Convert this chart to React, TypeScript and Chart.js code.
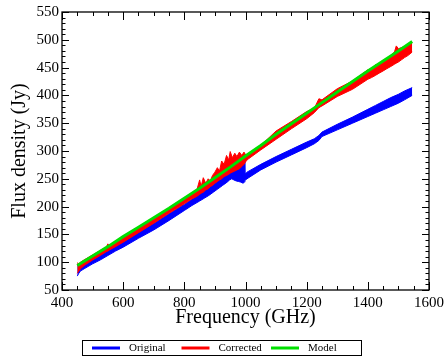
import React, { useEffect, useRef } from 'react';
import { Chart, registerables } from 'chart.js';

Chart.register(...registerables);

// Original spectrum (GHz / Jy): lower and upper envelope of the noisy trace
const ORIGINAL_FREQ = [
  450, 455, 460, 475, 500, 525, 550, 575, 600, 650, 700, 750, 800, 825, 850, 865,
  880, 895, 910, 925, 940, 948, 955, 962, 970, 978, 985, 992, 996, 998, 1005, 1050,
  1100, 1150, 1200, 1225, 1240, 1250, 1300, 1350, 1400, 1425, 1450, 1475, 1500, 1520, 1545,
];
const ORIGINAL_LOW = [
  75, 80, 84, 89, 97, 104, 112, 120, 127, 143, 158, 175, 193, 202, 210, 215,
  220, 226, 232, 238, 244, 248, 250, 248, 246, 245, 244, 242, 244, 247, 250, 266,
  280, 293, 306, 313, 319, 326, 338, 350, 362, 368, 374, 380, 386, 392, 400,
];
const ORIGINAL_HIGH = [
  95, 93, 97, 101, 109, 117, 125, 132, 140, 155, 170, 187, 204, 213, 223, 229,
  235, 241, 249, 255, 262, 268, 262, 272, 268, 276, 280, 286, 284, 258, 262, 276,
  290, 303, 316, 322, 328, 334, 348, 361, 375, 382, 389, 396, 402, 408, 414,
];

// Corrected spectrum (GHz / Jy): lower and upper envelope
const CORRECTED_FREQ = [
  450, 455, 460, 475, 500, 525, 545, 550, 555, 575, 600, 650, 700, 750, 800, 825,
  840, 850, 855, 862, 870, 878, 885, 892, 900, 908, 915, 922, 930, 938, 945, 950,
  957, 965, 972, 980, 988, 995, 1002, 1010, 1050, 1100, 1150, 1200, 1225, 1240, 1250,
  1300, 1350, 1400, 1412, 1425, 1437, 1450, 1462, 1475, 1487, 1493, 1500, 1510, 1520,
  1532, 1545,
];
const CORRECTED_LOW = [
  80, 84, 88, 95, 104, 112, 119, 120, 122, 128, 136, 153, 170, 188, 205, 214,
  218, 222, 224, 226, 230, 232, 236, 238, 242, 245, 248, 250, 254, 256, 258, 260,
  262, 264, 266, 268, 272, 276, 282, 286, 302, 321, 340, 358, 369, 378, 381,
  398, 411, 429, 432, 436, 440, 444, 448, 452, 456, 458, 460, 464, 468,
  472, 478,
];
const CORRECTED_HIGH = [
  99, 97, 100, 105, 113, 121, 127, 133, 128, 137, 145, 162, 179, 196, 213, 224,
  228, 248, 236, 252, 242, 250, 246, 256, 262, 270, 264, 282, 276, 292, 284, 299,
  288, 296, 290, 298, 292, 298, 292, 294, 310, 336, 353, 371, 377, 394, 392,
  412, 426, 446, 448, 455, 456, 463, 466, 472, 478, 489, 484, 486, 488,
  490, 494,
];

// Model curve
const MODEL_FREQ = [
  450, 500, 550, 600, 650, 700, 750, 800, 850, 900, 950, 1000, 1050, 1100, 1150,
  1200, 1250, 1300, 1350, 1400, 1450, 1500, 1545,
];
const MODEL_FLUX = [
  94, 111, 128, 146, 163, 180, 197, 215, 233, 252, 271, 291, 310, 330, 349,
  368, 387, 406, 425, 444, 462, 480, 497,
];

const LEGEND_LABELS = ['Original', 'Corrected', 'Model'];
const COLORS = ['#0000ff', '#ff0000', '#00e000'];

const X_MIN = 400, X_MAX = 1600, X_MAJOR = 200, X_MINOR = 50;
const Y_MIN = 50, Y_MAX = 550, Y_MAJOR = 50, Y_MINOR = 10;

const SERIF = "'Liberation Serif', 'Times New Roman', serif";

const pts = (xs: number[], ys: number[]) => xs.map((x, i) => ({ x, y: ys[i] }));

const frameAndLegend = {
  id: 'frameAndLegend',
  afterDraw(chart: any) {
    const { ctx, chartArea: a, scales } = chart;
    const x = scales.x, y = scales.y;
    ctx.save();
    ctx.strokeStyle = '#000';
    ctx.lineWidth = 1;
    const seg = (x1: number, y1: number, x2: number, y2: number) => {
      ctx.beginPath();
      ctx.moveTo(x1, y1);
      ctx.lineTo(x2, y2);
      ctx.stroke();
    };
    for (let v = X_MIN; v <= X_MAX; v += X_MINOR) {
      const px = Math.round(x.getPixelForValue(v)) + 0.5;
      const len = v % X_MAJOR === 0 ? 8 : 4;
      seg(px, a.bottom, px, a.bottom - len);
      seg(px, a.top, px, a.top + len);
    }
    for (let v = Y_MIN; v <= Y_MAX; v += Y_MINOR) {
      const py = Math.round(y.getPixelForValue(v)) + 0.5;
      const len = v % Y_MAJOR === 0 ? 7 : 3.5;
      seg(a.left, py, a.left + len, py);
      seg(a.right, py, a.right - len, py);
    }
    ctx.lineWidth = 1.3;
    ctx.strokeRect(a.left, a.top, a.right - a.left, a.bottom - a.top);

    // legend
    const boxL = 82.5, boxT = 340.5, boxW = 279, boxH = 15;
    ctx.lineWidth = 1;
    ctx.strokeRect(boxL, boxT, boxW, boxH);
    const slot = 89.5;
    const lineY = boxT + boxH / 2;
    ctx.font = `11px ${SERIF}`;
    ctx.textBaseline = 'middle';
    ctx.textAlign = 'left';
    LEGEND_LABELS.forEach((label, i) => {
      const sx = 92 + i * slot;
      ctx.strokeStyle = COLORS[i];
      ctx.lineWidth = 3;
      seg(sx, lineY, sx + 28, lineY);
      ctx.fillStyle = '#000';
      ctx.fillText(label, sx + 37, lineY + 0.5);
    });
    ctx.restore();
  },
};

export default function App() {
  const ref = useRef<HTMLCanvasElement | null>(null);
  useEffect(() => {
    document.body.style.margin = '0';
    if (!ref.current) return;
    const band = (lbl: string, xs: number[], lo: number[], hi: number[], color: string, order: number) => [
      {
        label: lbl,
        data: pts(xs, hi),
        borderColor: color,
        backgroundColor: color,
        borderWidth: 1,
        pointRadius: 0,
        fill: '+1',
        order,
      },
      {
        label: lbl + ' (low)',
        data: pts(xs, lo),
        borderColor: color,
        backgroundColor: color,
        borderWidth: 1,
        pointRadius: 0,
        fill: false,
        order,
      },
    ];
    const chart = new Chart(ref.current, {
      type: 'line',
      data: {
        datasets: [
          ...band(LEGEND_LABELS[0], ORIGINAL_FREQ, ORIGINAL_LOW, ORIGINAL_HIGH, COLORS[0], 3),
          ...band(LEGEND_LABELS[1], CORRECTED_FREQ, CORRECTED_LOW, CORRECTED_HIGH, COLORS[1], 2),
          {
            label: LEGEND_LABELS[2],
            data: pts(MODEL_FREQ, MODEL_FLUX),
            borderColor: COLORS[2],
            backgroundColor: COLORS[2],
            borderWidth: 3,
            pointRadius: 0,
            fill: false,
            order: 1,
          },
        ] as any,
      },
      options: {
        responsive: false,
        animation: false,
        layout: { padding: { left: 0, right: 15, top: 12, bottom: 20 } },
        plugins: {
          legend: { display: false },
          tooltip: { enabled: false },
        },
        scales: {
          x: {
            type: 'linear',
            min: X_MIN,
            max: X_MAX,
            grid: { display: false, drawTicks: false },
            border: { display: false },
            ticks: {
              stepSize: X_MAJOR,
              padding: 4,
              color: '#000',
              font: { family: SERIF, size: 15 },
              callback: (v: any) => String(v),
            },
            title: { display: true, text: 'Frequency (GHz)', color: '#000', font: { family: SERIF, size: 20 }, padding: { top: 0, bottom: 8 } },
            afterFit: (s: any) => { s.height = 48; },
          },
          y: {
            type: 'linear',
            min: Y_MIN,
            max: Y_MAX,
            grid: { display: false, drawTicks: false },
            border: { display: false },
            ticks: {
              stepSize: Y_MAJOR,
              padding: 3,
              color: '#000',
              font: { family: SERIF, size: 15 },
              callback: (v: any) => String(v),
            },
            title: { display: true, text: 'Flux density (Jy)', color: '#000', font: { family: SERIF, size: 20 }, padding: { top: 8, bottom: 0 } },
            afterFit: (s: any) => { s.width = 62; },
          },
        },
      },
      plugins: [frameAndLegend],
    });
    return () => chart.destroy();
  }, []);
  return (
    <div style={{ position: 'absolute', left: 0, top: 0, width: 448, height: 358, background: '#fff' }}>
      <canvas ref={ref} width={448} height={358} style={{ display: 'block' }} />
    </div>
  );
}
